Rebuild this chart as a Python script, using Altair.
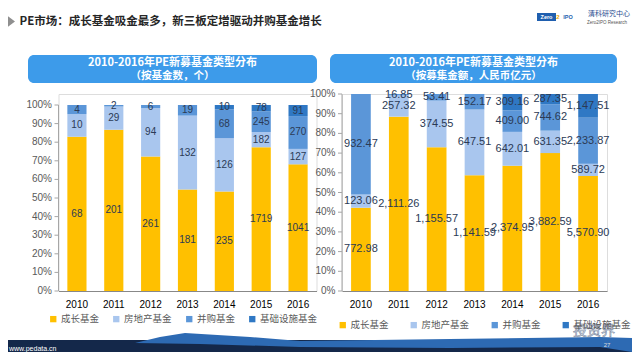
import altair as alt
import pandas as pd

years = ["2010", "2011", "2012", "2013", "2014", "2015", "2016"]
categories = ["成长基金", "房地产基金", "并购基金", "基础设施基金"]

count_growth = [68, 201, 261, 181, 235, 1719, 1041]
count_realestate = [10, 29, 94, 132, 126, 182, 127]
count_ma = [4, 2, 6, 19, 68, 245, 270]
count_infra = [0, 0, 0, 0, 10, 78, 91]

amount_growth = [772.98, 2111.26, 1155.57, 1141.59, 2374.95, 3882.59, 5570.90]
amount_realestate = [123.06, 257.32, 374.55, 647.51, 642.01, 631.35, 589.72]
amount_ma = [932.47, 16.85, 53.41, 152.17, 409.00, 744.62, 2233.87]
amount_infra = [0, 0, 0, 0, 309.16, 287.35, 1147.51]

y_ticks = [0, 0.1, 0.2, 0.3, 0.4, 0.5, 0.6, 0.7, 0.8, 0.9, 1.0]

slide_title = "PE市场：成长基金吸金最多，新三板定增驱动并购基金增长"
left_head = ["2010-2016年PE新募基金类型分布", "（按基金数，个）"]
right_head = ["2010-2016年PE新募基金类型分布", "（按募集金额，人民币亿元）"]

colors = ["#FFC000", "#A9C6EE", "#5B96D8", "#2F78C4"]

NUM_FONT = "Liberation Sans, Noto Sans CJK SC, sans-serif"
CJK_FONT = "Noto Sans CJK SC, Noto Sans, sans-serif"
LABEL_COLOR = "#2B3A55"
AXIS_TEXT = "#595959"
AXIS_LINE = "#A6A6A6"
HEAD_BLUE = "#3D9BEA"


def to_long(series):
    rows = []
    for order, (cat, vals) in enumerate(zip(categories, series)):
        for yr, v in zip(years, vals):
            rows.append({"year": yr, "category": cat, "order": order, "value": v})
    return pd.DataFrame(rows)


count_df = to_long([count_growth, count_realestate, count_ma, count_infra])
amount_df = to_long([amount_growth, amount_realestate, amount_ma, amount_infra])
tick_df = pd.DataFrame({"t": y_ticks})
span_df = pd.DataFrame({"lo": [min(y_ticks)], "hi": [max(y_ticks)]})
one = pd.DataFrame({"k": [0]})

LEFT_ORIGIN = (58.5, 94)
RIGHT_ORIGIN = (342, 94)
H = 197


def rect_at(x1, y1, x2, y2, color, origin, radius=0):
    ox, oy = origin
    return alt.Chart(one).mark_rect(color=color, cornerRadius=radius).encode(
        x=alt.value(x1 - ox), x2=alt.value(x2 - ox),
        y=alt.value(y1 - oy), y2=alt.value(y2 - oy))


def text_at(x, y, s, origin, size, color, weight="normal", align="left", font=CJK_FONT, **kw):
    ox, oy = origin
    return alt.Chart(one).mark_text(
        text=s, fontSize=size, color=color, fontWeight=weight, align=align,
        baseline="middle", font=font, **kw).encode(x=alt.value(x - ox), y=alt.value(y - oy))


def shape_at(points, cx, cy, half, color, origin):
    ox, oy = origin
    path = "M " + " L ".join(f"{(px - cx) / half:.4f} {(py - cy) / half:.4f}" for px, py in points) + " Z"
    return alt.Chart(one).mark_point(shape=path, filled=True, color=color, opacity=1,
                                     strokeWidth=0, size=(2 * half) ** 2).encode(
        x=alt.value(cx - ox), y=alt.value(cy - oy))


def panel(df, y_range, fmt, font_size, legend_x, legend_y, col_pad):
    y_scale = alt.Scale(domain=[0, 1], range=y_range)
    x_axis = alt.Axis(labelAngle=0, ticks=False, labelPadding=8)
    x_scale = alt.Scale(paddingInner=0.48, paddingOuter=0.24)
    bars = alt.Chart(df).mark_bar().encode(
        x=alt.X("year:N", sort=years, title=None, scale=x_scale, axis=x_axis),
        y=alt.Y("value:Q", stack="normalize", scale=y_scale, title=None, axis=None),
        color=alt.Color("category:N", scale=alt.Scale(domain=categories, range=colors),
                        legend=alt.Legend(orient="none", legendX=legend_x, legendY=legend_y,
                                          direction="horizontal", title=None, symbolType="square",
                                          symbolSize=40, symbolStrokeWidth=0, labelFont=CJK_FONT,
                                          labelFontSize=9.5, labelColor=AXIS_TEXT,
                                          columnPadding=col_pad, labelOffset=3, padding=0)),
        order=alt.Order("order:Q", sort="ascending"),
    )
    labels = (alt.Chart(df)
              .transform_joinaggregate(total="sum(value)", groupby=["year"])
              .transform_window(cum="sum(value)", sort=[alt.SortField("order", order="ascending")],
                                groupby=["year"], frame=[None, 0])
              .transform_calculate(mid="(datum.cum - datum.value / 2) / datum.total")
              .transform_filter("datum.value > 0")
              .mark_text(font=NUM_FONT, fontSize=font_size, color=LABEL_COLOR)
              .encode(x=alt.X("year:N", sort=years, title=None, scale=x_scale, axis=x_axis),
                      y=alt.Y("mid:Q", scale=y_scale, title=None, axis=None),
                      text=alt.Text("value:Q", format=fmt)))
    # y axis: domain line, ticks and labels drawn through the same y scale
    y_domain = alt.Chart(span_df).mark_rule(color=AXIS_LINE, strokeWidth=1).encode(
        x=alt.value(0),
        y=alt.Y("lo:Q", scale=y_scale, axis=None, title=None), y2="hi:Q")
    y_tick_marks = alt.Chart(tick_df).mark_rule(color=AXIS_LINE, strokeWidth=1).encode(
        x=alt.value(-4), x2=alt.value(0),
        y=alt.Y("t:Q", scale=y_scale, axis=None, title=None))
    y_labels = alt.Chart(tick_df).mark_text(
        align="right", baseline="middle", font=NUM_FONT, fontSize=10, color=AXIS_TEXT).encode(
        x=alt.value(-6.5),
        y=alt.Y("t:Q", scale=y_scale, axis=None, title=None),
        text=alt.Text("t:Q", format=".0%"))
    return [bars, labels, y_domain, y_tick_marks, y_labels]


left_layers = panel(count_df, [H, 11], "d", 10, -10, 220, 12)
right_layers = panel(amount_df, [H, 0], ",.2f", 11, -4, 226, 20)

LO = LEFT_ORIGIN
wave = [(135, 343), (160, 337), (185, 333), (250, 337), (300, 341), (450, 339), (600, 337),
        (632, 338), (632, 352), (600, 347), (450, 348), (300, 347), (200, 344)]

left_back = [
    shape_at([(0, 10), (15, 21.5), (0, 33)], 7, 21.5, 12, "#8F8F8F", LO),
    text_at(19.5, 22, slide_title, LO, 11.5, "#262626", weight="bold"),
    rect_at(537, 13, 556, 21, "#1F5FAF", LO),
    text_at(546.5, 17, "Zero", LO, 5.5, "white", weight="bold", align="center", font=NUM_FONT),
    text_at(568, 17, "IPO", LO, 5.5, "#1F5FAF", weight="bold", align="center", font=NUM_FONT),
    text_at(558, 17, "2", LO, 6, "#E8A800", weight="bold", align="center", font=NUM_FONT),
    text_at(588, 14, "清科研究中心", LO, 7, "#2A4D8F"),
    text_at(587, 23, "Zero2IPO Research", LO, 4.5, "#555555", font=NUM_FONT),
    rect_at(28, 55, 317, 83, HEAD_BLUE, LO, radius=6),
    text_at(172.5, 62.5, left_head[0], LO, 11, "white", weight="bold", align="center"),
    text_at(172.5, 76, left_head[1], LO, 10.5, "white", weight="bold", align="center"),
]
left_front = [
    rect_at(8, 340, 632, 352, "#14284A", LO),
    shape_at(wave, 384, 342, 250, "#2D6AB3", LO),
    text_at(9, 349, "www.pedata.cn", LO, 7, "white", font=NUM_FONT),
    text_at(607, 345, "27", LO, 6, "#DDDDDD", align="center", font=NUM_FONT),
    text_at(594, 331, "投资界", LO, 14, "#F2F4F8", align="center", stroke="#7D8BA3", strokeWidth=0.6),
]

RO = RIGHT_ORIGIN
right_deco = [
    rect_at(330, 54, 617, 83, HEAD_BLUE, RO, radius=6),
    text_at(473.5, 62.5, right_head[0], RO, 11, "white", weight="bold", align="center"),
    text_at(473.5, 76, right_head[1], RO, 10.5, "white", weight="bold", align="center"),
]

left = alt.layer(*left_back, *left_layers, *left_front).properties(width=258, height=H)
right = alt.layer(*right_deco, *right_layers).properties(width=265, height=H)

chart = (alt.hconcat(left, right, spacing=25.5, bounds="flush")
         .resolve_scale(color="independent")
         .resolve_legend(color="independent")
         .properties(autosize=alt.AutoSizeParams(type="none"),
                     padding={"left": 50.5, "top": 86, "right": 573.5, "bottom": 258})
         .configure_view(stroke=None)
         .configure_axis(domainColor=AXIS_LINE, tickColor=AXIS_LINE, labelColor=AXIS_TEXT,
                         labelFontSize=10, labelFont=NUM_FONT, grid=False)
         .configure(background="white"))

chart.save("out.html", embed_options={"renderer": "svg", "actions": False})
